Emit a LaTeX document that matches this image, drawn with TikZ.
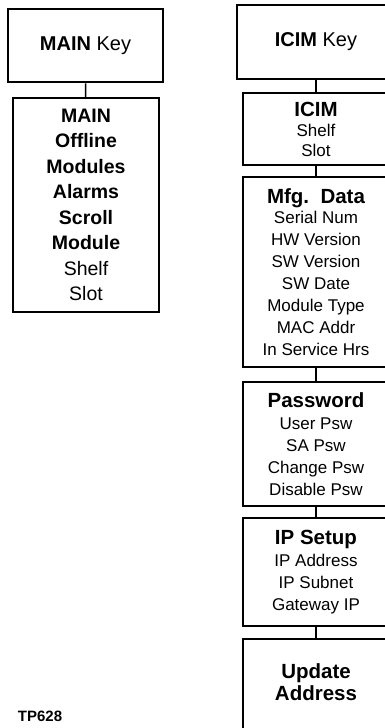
\documentclass[tikz,border=0pt]{standalone}
\usepackage{fontspec}
\setmainfont{Liberation Sans}
\usepackage{tikz}
\usetikzlibrary{positioning}
\tikzset{
  keybox/.style={draw,line width=2.8pt,align=center,inner sep=0pt,
    font=\fontsize{20}{22}\selectfont},
  itembox/.style={draw,line width=1.4pt,align=center,inner sep=0pt,
    minimum width=146pt,font=\fontsize{17}{22}\selectfont},
  link/.style={line width=1.4pt},
}
\newcommand{\boxhead}[1]{{\fontsize{20.5}{22}\selectfont\bfseries #1}}

\begin{document}
\begin{tikzpicture}[x=1pt,y=1pt]
    \clip (0,0) rectangle (385,-728);

    % MAIN column
    \node[keybox,minimum width=155pt,minimum height=73pt] (mainkey) at (85.5,-45.5)
      {\textbf{MAIN} Key};
    \node[itembox,font=\fontsize{19.5}{25.5}\selectfont,minimum height=214pt] (mainsub) at (86,-205)
      {\textbf{MAIN}\\\textbf{Offline}\\\textbf{Modules}\\\textbf{Alarms}\\
       \textbf{Scroll}\\\textbf{Module}\\Shelf\\Slot};

    % ICIM column
    \node[keybox,minimum width=158pt,minimum height=74pt] (icimkey) at (316,-42)
      {\textbf{ICIM} Key};
    \node[itembox,minimum height=72pt] (icim) at (316,-129)
      {\boxhead{ICIM}\\[-2pt]Shelf\\[-2pt]Slot};
    \node[itembox,minimum height=190pt] (mfg) at (316,-272)
      {\boxhead{Mfg.\ \ Data}\\[-2pt]Serial Num\\HW Version\\SW Version\\SW Date\\
       Module Type\\MAC Addr\\In Service Hrs};
    \node[itembox,minimum height=124pt] (pwd) at (316,-444)
      {\boxhead{Password}\\User Psw\\SA Psw\\Change Psw\\Disable Psw};
    \node[itembox,minimum height=108pt] (ipset) at (316,-572)
      {\boxhead{IP Setup}\\IP Address\\IP Subnet\\Gateway IP};
    \node[itembox,text height=61pt,text depth=60pt,anchor=base] (upd) at (316,-700)
      {\boxhead{Update}\\\boxhead{Address}};

    % Links
    \draw[link] (mainkey) -- (mainsub);
    \draw[link] (icimkey) -- (icim);
    \draw[link] (icim) -- (mfg);
    \draw[link] (mfg) -- (pwd);
    \draw[link] (pwd) -- (ipset);
    \draw[link] (ipset) -- (upd);

    % Figure number
    \node[font=\fontsize{15}{15}\selectfont\bfseries] (tpnum) at (40,-716) {TP628};
\end{tikzpicture}
\end{document}
